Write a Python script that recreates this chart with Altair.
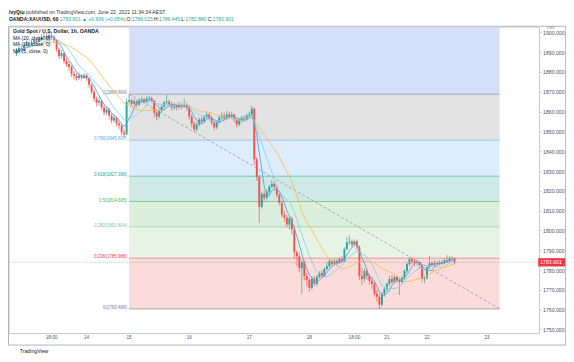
import altair as alt
import pandas as pd

FONT = "Liberation Sans"

# ---------------- data ----------------
first_open = 1889.0
closes = [
    1890.5, 1892.0, 1891.0, 1893.5, 1894.5, 1893.8, 1895.0, 1896.0, 1895.2, 1896.5,
    1897.5, 1898.2, 1897.0, 1898.5, 1897.8, 1896.0, 1891.5, 1888.0, 1889.5, 1885.5,
    1884.0, 1882.5, 1879.0, 1878.0, 1877.0, 1878.2, 1877.0, 1878.3, 1876.8, 1873.5,
    1870.0, 1866.5, 1864.5, 1865.5, 1862.0, 1859.5, 1861.0, 1858.0, 1855.5, 1857.0,
    1854.0, 1853.0, 1849.5, 1848.5, 1865.0, 1865.8, 1864.0, 1865.2, 1863.5, 1865.5,
    1866.2, 1865.0, 1866.5, 1866.8, 1865.5, 1859.5, 1857.5, 1860.5, 1862.5, 1864.5,
    1865.0, 1863.8, 1862.0, 1863.0, 1862.0, 1863.5, 1862.5, 1863.5, 1862.0, 1857.5,
    1854.0, 1851.0, 1853.5, 1856.0, 1855.0, 1857.5, 1858.5, 1857.0, 1854.5, 1852.0,
    1854.5, 1857.0, 1858.0, 1856.5, 1858.5, 1857.5, 1858.5, 1856.0, 1853.5, 1855.5,
    1857.0, 1856.0, 1858.0, 1858.5, 1861.5, 1836.0, 1827.0, 1812.0, 1818.5, 1816.5,
    1819.5, 1822.0, 1823.5, 1822.0, 1818.0, 1814.0, 1808.0, 1806.5, 1803.0, 1806.0,
    1800.5, 1789.0, 1787.0, 1781.0, 1784.0, 1777.0, 1775.0, 1771.0, 1775.5, 1773.0,
    1776.5, 1778.5, 1777.0, 1780.5, 1782.0, 1784.5, 1783.0, 1784.5, 1783.5, 1785.5,
    1784.5, 1790.5, 1794.0, 1794.5, 1793.0, 1794.5, 1791.5, 1777.0, 1775.5, 1779.5,
    1777.0, 1774.5, 1773.0, 1768.0, 1766.5, 1762.5, 1768.0, 1770.5, 1773.0, 1775.5,
    1774.0, 1776.5, 1775.0, 1774.0, 1776.0, 1779.5, 1783.0, 1785.5, 1784.5, 1783.5,
    1784.0, 1782.5, 1775.5, 1776.0, 1781.5, 1783.5, 1782.5, 1783.5, 1783.0, 1784.0,
    1783.5, 1785.0, 1784.5, 1786.0, 1786.025, 1783.901,
]
highs = [
    1892, 1893, 1893, 1894.5, 1896, 1895.5, 1896.5, 1897.5, 1897, 1898,
    1899, 1900, 1899.5, 1900.5, 1899.8, 1898.5, 1896.5, 1892.5, 1891, 1890,
    1887, 1885.5, 1883.5, 1880.5, 1879.5, 1879.5, 1879, 1879.5, 1879, 1877.5,
    1874, 1871, 1867.5, 1867, 1866, 1863.5, 1862.5, 1862, 1859, 1858.5,
    1857.5, 1855.5, 1854, 1851, 1866.5, 1868.8, 1866.5, 1866.5, 1866, 1866.8,
    1867.5, 1867, 1867.8, 1868, 1867.5, 1866, 1861, 1861.5, 1863.5, 1865.5,
    1868.5, 1866, 1865, 1864.5, 1864, 1865, 1864.5, 1866.5, 1864.5, 1863,
    1858.5, 1855, 1854.5, 1857, 1857.5, 1858.5, 1860, 1859.5, 1858, 1855.5,
    1855.5, 1858, 1859.5, 1859.5, 1860.5, 1860, 1860, 1859, 1857, 1856.5,
    1858, 1858, 1859, 1860, 1863, 1862, 1837, 1828, 1819.5, 1820,
    1820.5, 1823, 1825.5, 1825, 1823, 1819, 1815, 1810, 1808, 1807,
    1807, 1802, 1790, 1789, 1785, 1785, 1778.5, 1776, 1776.5, 1777,
    1777.5, 1779.5, 1780, 1781.5, 1784, 1785.5, 1785.5, 1786, 1785.5, 1786.5,
    1787, 1791.5, 1796.5, 1797.5, 1795.5, 1795.5, 1795.5, 1792.5, 1781, 1781,
    1780.5, 1778, 1776.5, 1774, 1770, 1768, 1769, 1771.5, 1774, 1777,
    1777.5, 1777.5, 1777, 1776, 1777, 1780.5, 1784, 1786.5, 1786, 1785.5,
    1785, 1784.5, 1783, 1777, 1782.5, 1787, 1784.5, 1785, 1784.5, 1785,
    1785, 1786, 1787.5, 1787, 1787, 1786.445,
]
lows = [
    1888, 1889.5, 1890, 1890.5, 1893, 1892.5, 1893, 1894.5, 1894, 1894.8,
    1896, 1896.8, 1896, 1896.5, 1896.5, 1894.5, 1890, 1886.5, 1886.5, 1884,
    1882.5, 1880.5, 1877.5, 1876, 1875.5, 1876, 1875.8, 1876.5, 1875.5, 1872,
    1868.5, 1865, 1862.5, 1863, 1860.5, 1858, 1858, 1856, 1854, 1854.5,
    1852.5, 1851, 1848, 1846.5, 1848, 1863.5, 1862.5, 1863, 1862, 1863,
    1864.5, 1864, 1864.5, 1865.5, 1864.5, 1857, 1855.5, 1856.5, 1859.5, 1862,
    1863.5, 1862.5, 1860.5, 1861, 1860.5, 1861.5, 1861, 1862, 1860.5, 1856,
    1852, 1849.5, 1850, 1852.5, 1853.5, 1854.5, 1856.5, 1855.5, 1853, 1850.5,
    1851, 1854, 1856, 1855.5, 1856, 1856.5, 1856.5, 1854.5, 1852, 1852.5,
    1854.5, 1855, 1855.5, 1857, 1858, 1833, 1825, 1804, 1811, 1815,
    1815.5, 1818.5, 1821.5, 1820.5, 1816.5, 1812.5, 1806.5, 1804.5, 1801.5, 1800.5,
    1798, 1786, 1782, 1779, 1768, 1775, 1772, 1769, 1770, 1772,
    1772, 1775.5, 1776, 1776.5, 1780, 1781, 1782, 1782.5, 1782, 1783,
    1783.5, 1784, 1790, 1792.5, 1791.5, 1792, 1790, 1775, 1772.5, 1774,
    1775, 1772.5, 1770.5, 1766.5, 1764, 1760.4, 1761.5, 1766.5, 1769, 1772,
    1773, 1773, 1773.5, 1767.5, 1773, 1775, 1778.5, 1782, 1783, 1782,
    1782.5, 1781, 1774, 1773.5, 1775, 1781, 1781.5, 1782, 1782, 1782.5,
    1782.5, 1783, 1783.5, 1783.5, 1784.5, 1782.88,
]

fib_ratios = ["1", "0.786", "0.618", "0.5", "0.382", "0.236", "0"]
fib_prices = [1868.804, 1845.607, 1827.396, 1814.605, 1801.814, 1785.988, 1760.406]
fib_start_bar = 45
fib_end_bar = 193

time_bars = [14, 28, 45, 69, 93, 117, 135, 148, 164, 188]
time_labels = ["18:00", "14", "15", "16", "17", "18", "18:00", "21", "22", "23"]

price_ticks = [1750, 1760, 1770, 1780, 1790, 1800, 1810, 1820, 1830, 1840,
               1850, 1860, 1870, 1880, 1890, 1900]
last_price = 1783.901

header_user = "IvyQiu"
header_rest = "published on TradingView.com, June 22, 2021 11:34:34 AEST"
symbol_text = "OANDA:XAUUSD, 60"
quote_parts = [("1783.901 \u25B2 +0.906 (+0.05%)", None), ("1786.025", "O:"),
               ("1786.445", "H:"), ("1782.880", "L:"), ("1783.901", "C:")]

# ---------------- styles ----------------
band_colors = ["#d6dffa", "#e3e3e4", "#ddedfb", "#cfe9e6", "#dcefdc", "#e7f4e5", "#fcdbdb"]
line_colors = ["#a3a6ae", "#9cc8ef", "#6cc2b6", "#86c988", "#a9d8aa", "#f3959a", "#a3a6ae"]
label_colors = ["#787b86", "#5ea8ec", "#1f9e8c", "#4caf50", "#7cc47f", "#f23645", "#787b86"]
UP, DOWN = "#26a69a", "#ef5350"
MA5_C, MA10_C, MA20_C = "#4fa6e6", "#86d3ef", "#f5bf5c"
TEAL = "#26a69a"

Y_TOP, Y_BOT = 1902.71, 1748.22
X_LO, X_HI = -0.99, 206.75
W, H = 530, 306


def px(rx):
    return (rx - 2) * 0.98 - 1


def py(ry):
    return (ry - 2) * 0.977 - 19


# Arial / Liberation Sans advance widths (em) for header layout
REG = {".": .278, ":": .278, " ": .278, "+": .584, "(": .333, ")": .333, "%": .889,
       ",": .278, "O": .778, "H": .722, "L": .556, "C": .722, "\u25B2": .9}
BOLD = {":": .333, ",": .278, " ": .278, "O": .778, "A": .722, "N": .722, "D": .722,
        "X": .667, "U": .722, "S": .667, "I": .278, "v": .556, "y": .556, "Q": .778,
        "i": .278, "u": .611}


def text_w(s, size, bold=False):
    table = BOLD if bold else REG
    return sum(table.get(ch, .556) for ch in s) * size


xscale = alt.Scale(domain=[X_LO, X_HI], nice=False, zero=False)
yscale = alt.Scale(domain=[Y_BOT, Y_TOP], nice=False, zero=False)
xaxis = alt.Axis(labels=False, ticks=False, grid=False, domain=True,
                 domainColor="#c9cbd1", title=None)
yaxis = alt.Axis(orient="right", values=price_ticks, format=".3f", labelFontSize=5.2,
                 labelColor="#50535e", labelFont=FONT, grid=False, domainColor="#c9cbd1",
                 ticks=True, tickSize=2, tickColor="#c9cbd1", labelPadding=1.5,
                 labelFlush=False, title=None)


def X(f):
    return alt.X(f, type="quantitative", scale=xscale, axis=xaxis)


def Y(f):
    return alt.Y(f, type="quantitative", scale=yscale, axis=yaxis)


# ---------------- tables ----------------
opens = [first_open] + closes[:-1]
opens[-1] = 1786.025
df = pd.DataFrame({
    "i": list(range(len(closes))),
    "open": opens, "high": highs, "low": lows, "close": closes,
})
df["dir"] = ["up" if c >= o else "down" for o, c in zip(df["open"], df["close"])]

bands = pd.DataFrame({
    "lo": fib_prices,
    "hi": [Y_TOP] + fib_prices[:-1],
    "color": band_colors,
    "x0": [fib_start_bar] * 7, "x1": [fib_end_bar] * 7,
})
fib = pd.DataFrame({
    "price": fib_prices,
    "label": [f"{r}({p:.3f})" for r, p in zip(fib_ratios, fib_prices)],
    "lc": line_colors, "tc": label_colors,
    "x0": [fib_start_bar] * 7, "x1": [fib_end_bar] * 7,
})
diag = pd.DataFrame({"i": [fib_start_bar, fib_end_bar], "price": [fib_prices[0], fib_prices[-1]]})
tdf = pd.DataFrame({"i": time_bars, "label": time_labels})
pl = pd.DataFrame({"p": [last_price], "lo": [last_price - 2.1], "hi": [last_price + 2.1],
                   "t": [f"{last_price:.3f}"]})

# ---------------- layers ----------------
band_layer = alt.Chart(bands).mark_rect().encode(
    x=X("x0"), x2="x1", y=Y("lo"), y2="hi", color=alt.Color("color:N", scale=None))
fib_lines = alt.Chart(fib).mark_rule(strokeWidth=1).encode(
    x=X("x0"), x2="x1", y=Y("price"), color=alt.Color("lc:N", scale=None))
fib_text = alt.Chart(fib).mark_text(align="right", baseline="bottom", dx=-2, dy=1,
                                    fontSize=4.5, font=FONT).encode(
    x=X("x0"), y=Y("price"), text="label:N", color=alt.Color("tc:N", scale=None))
diag_line = alt.Chart(diag).mark_line(strokeDash=[3, 2], color="#9598a1", strokeWidth=0.8).encode(
    x=X("i"), y=Y("price"))
price_line = alt.Chart(pl).mark_rule(color="#f23645", opacity=0.45, strokeWidth=0.8,
                                     strokeDash=[1, 1]).encode(
    x=alt.value(0), x2=alt.value(W), y=Y("p"))

ccolor = alt.Color("dir:N", scale=alt.Scale(domain=["up", "down"], range=[UP, DOWN]), legend=None)
wicks = alt.Chart(df).mark_rule(strokeWidth=0.8, opacity=0.85).encode(
    x=X("i"), y=Y("low"), y2="high", color=ccolor)
bodies = alt.Chart(df).mark_bar(size=1.9).encode(
    x=X("i"), y=Y("open"), y2="close", color=ccolor)

ma_base = alt.Chart(df).transform_window(
    ma5="mean(close)", frame=[-4, 0], sort=[alt.SortField("i")]
).transform_window(
    ma10="mean(close)", frame=[-9, 0], sort=[alt.SortField("i")]
).transform_window(
    ma20="mean(close)", frame=[-19, 0], sort=[alt.SortField("i")]
)
ma20 = ma_base.mark_line(color=MA20_C, strokeWidth=0.9).encode(x=X("i"), y=Y("ma20"))
ma10 = ma_base.mark_line(color=MA10_C, strokeWidth=0.9).encode(x=X("i"), y=Y("ma10"))
ma5 = ma_base.mark_line(color=MA5_C, strokeWidth=0.9).encode(x=X("i"), y=Y("ma5"))

time_text = alt.Chart(tdf).mark_text(baseline="middle", fontSize=4.7, color="#50535e",
                                     font=FONT).encode(
    x=X("i"), y=alt.value(py(340)), text="label:N")

pbox = alt.Chart(pl).mark_rect(color="#f23645").encode(
    x=alt.value(px(543)), x2=alt.value(px(571)), y=Y("lo"), y2="hi")
ptext = alt.Chart(pl).mark_text(align="left", baseline="middle", fontSize=5.2, color="white",
                                font=FONT).encode(
    x=alt.value(px(545)), y=Y("p"), text="t:N")

frame = alt.Chart(pd.DataFrame({"a": [0]})).mark_rect(
    fillOpacity=0, stroke="#b2b5be", strokeWidth=1).encode(
    x=alt.value(-0.5), x2=alt.value(px(571)), y=alt.value(py(20.7)), y2=alt.value(py(347)))


def label_at(text, x, y, size=5, color="#131722", weight="normal", align="left"):
    return alt.Chart(pd.DataFrame({"t": [text]})).mark_text(
        align=align, baseline="middle", fontSize=size, color=color,
        fontWeight=weight, font=FONT).encode(
        x=alt.value(x), y=alt.value(y), text="t:N")


def label(text, rx, ry, size=5, color="#131722", weight="normal", align="left"):
    return label_at(text, px(rx), py(ry), size, color, weight, align)


texts = []
# header line 1
F1 = 5.1
x = px(3)
texts.append(label_at(header_user, x, py(6), F1, weight="bold"))
x += text_w(header_user, F1, True) + text_w(" ", F1)
texts.append(label_at(header_rest, x, py(6), F1, color="#333333"))
# header line 2
F2 = 5.0
x = px(3)
texts.append(label_at(symbol_text, x, py(13.5), F2, weight="bold"))
x += text_w(symbol_text, F2, True) + text_w(" ", F2)
for val, key in quote_parts:
    if key:
        texts.append(label_at(key, x, py(13.5), F2))
        x += text_w(key, F2)
    texts.append(label_at(val, x, py(13.5), F2, color=TEAL))
    x += text_w(val, F2) + text_w(" ", F2)

texts += [
    label("Gold Spot / U.S. Dollar, 1h, OANDA", 7, 25.5, 5.2, weight="bold"),
    label("MA (20, close, 0)", 7, 32.3, 5.0),
    label("MA (10, close, 0)", 7, 39.1, 5.0),
    label("MA (5, close, 0)", 7, 45.9, 5.0),
    label("USD", 556, 22.3, 3.8, color="#787b86", align="center"),
    label("TradingView", 14, 353, 5.2, color="#131722"),
]

chart = alt.layer(
    band_layer, fib_lines, fib_text, diag_line, price_line,
    wicks, bodies, ma20, ma10, ma5,
    time_text, pbox, ptext, frame, *texts,
).properties(
    width=W, height=H,
    padding={"left": 1, "top": 19, "right": 27, "bottom": 21},
    autosize=alt.AutoSizeParams(type="none"),
).configure_view(strokeWidth=0).configure(font=FONT, background="white")

chart.save("out.html", embed_options={"renderer": "svg", "actions": False})
